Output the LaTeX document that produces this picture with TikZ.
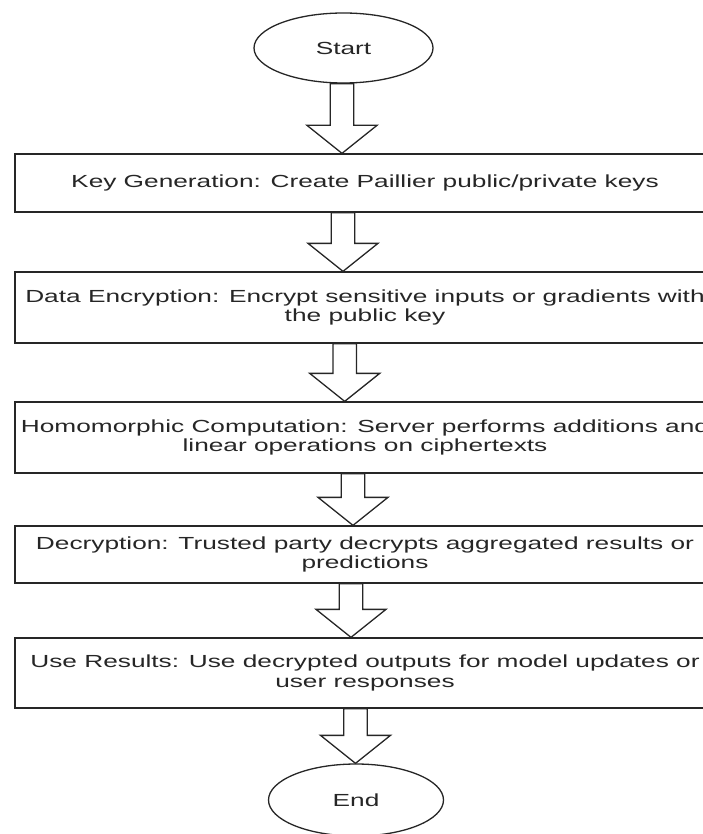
\documentclass[tikz,border=0pt]{standalone}
\usepackage{fontspec}
\setmainfont{Liberation Sans}[FakeStretch=1.5]
\usetikzlibrary{shapes.geometric,calc}

\tikzset{
  flowline/.style={draw=black!85, line width=1.3pt},
  terminal/.style={flowline, ellipse, fill=white, text=black!85,
    font=\fontsize{17.5}{19.5}\selectfont, inner sep=0pt},
  stepbox/.style={flowline, rectangle, fill=white, text=black!85,
    minimum width=700pt, align=center, inner sep=0pt,
    font=\fontsize{17.5}{19.5}\selectfont},
  % hollow block arrow from the start point straight down to the target
  blockarrow/.style={flowline, fill=white, to path={
    let \p1=(\tikztostart), \p2=(\tikztotarget) in
    (\x1-11.7,\y1) -- (\x1-11.7,\y2+28) -- (\x1-35,\y2+28) -- (\x1,\y2)
    -- (\x1+35,\y2+28) -- (\x1+11.7,\y2+28) -- (\x1+11.7,\y1) -- cycle}}
}

\begin{document}
\begin{tikzpicture}[x=1pt, y=-1pt]
\useasboundingbox (0,0) rectangle (703,834);

\node[terminal, minimum width=179pt, minimum height=70pt] (start) at (343.5,48) {Start};

\node[stepbox, minimum height=58pt] (key) at (365,183)
  {Key Generation: Create Paillier public/private keys};
\node[stepbox, minimum height=71pt] (enc) at (365,307.5)
  {Data Encryption: Encrypt sensitive inputs or gradients with\\the public key};
\node[stepbox, minimum height=71pt] (hom) at (365,437.5)
  {Homomorphic Computation: Server performs additions and\\linear operations on ciphertexts};
\node[stepbox, minimum height=57pt] (dec) at (365,554.5)
  {Decryption: Trusted party decrypts aggregated results or\\predictions};
\node[stepbox, minimum height=70pt] (use) at (365,673)
  {Use Results: Use decrypted outputs for model updates or\\user responses};

\node[terminal, minimum width=175pt, minimum height=72pt] (end) at (356,800) {End};

\draw[blockarrow] ([xshift=-1.5pt]start.south) to (key.north);
\draw[blockarrow] ([xshift=-22pt]key.south) to (enc.north);
\draw[blockarrow] ([xshift=-20.3pt]enc.south) to (hom.north);
\draw[blockarrow] ([xshift=-12pt]hom.south) to (dec.north);
\draw[blockarrow] ([xshift=-14pt]dec.south) to (use.north);
\draw[blockarrow] ([xshift=-9.5pt]use.south) to (end.north);
\end{tikzpicture}
\end{document}
